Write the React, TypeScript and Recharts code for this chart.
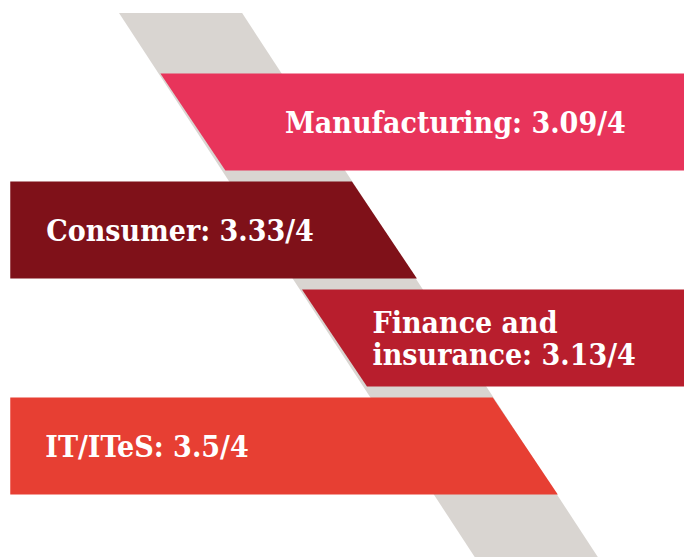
import { BarChart, Bar, XAxis, YAxis, ReferenceArea } from 'recharts'

// sector scores
const sectors = ['Manufacturing', 'Consumer', 'Finance and\ninsurance', 'IT/ITeS']
const scores = [3.09, 3.33, 3.13, 3.5]
// extent of each slab on a 0-100 track (measured at half height)
const spanFrom = [28.2, 1.5, 48.9, 1.5]
const spanTo = [100, 56.2, 100, 76.8]
// grey diagonal band behind the slabs: x range at the top and at the bottom
const bandTop = [17.4, 35.4]
const bandBottom = [69.4, 87.4]

const COLORS = ['#E8345B', '#7F1119', '#B81E2D', '#E73F33']
const LABEL_INSET = [92, 36, 38, 35]
const SLANT = 0.67
const FONT_SIZE = 30
const LINE_H = 32

const rows = sectors.map((name, i) => ({
  name,
  score: scores[i],
  span: [spanFrom[i], spanTo[i]],
}))

const Slab = (props: any) => {
  const { x, y, width, height, index, payload } = props
  const s = height * SLANT
  const anchoredRight = payload.span[1] >= 100
  const pts = anchoredRight
    ? [[x - s / 2, y], [x + width, y], [x + width, y + height], [x + s / 2, y + height]]
    : [[x, y], [x + width - s / 2, y], [x + width + s / 2, y + height], [x, y + height]]
  const lines = `${payload.name}: ${payload.score}/4`.split('\n')
  const tx = x + LABEL_INSET[index]
  const first = y + height / 2 - ((lines.length - 1) * LINE_H) / 2 + FONT_SIZE * 0.36
  return (
    <g>
      <polygon points={pts.map((p) => p.join(',')).join(' ')} fill={COLORS[index]} />
      <text
        x={tx}
        y={first}
        fill="#fff"
        fontSize={FONT_SIZE}
        fontWeight="bold"
        fontFamily="'DejaVu Serif Condensed', 'DejaVu Serif', serif"
      >
        {lines.map((line, i) => (
          <tspan key={i} x={tx} dy={i === 0 ? 0 : LINE_H}>
            {line}
          </tspan>
        ))}
      </text>
    </g>
  )
}

const GreyBand = (props: any) => {
  const { x, y, width, height } = props
  const unit = width / (bandTop[1] - bandTop[0])
  const off = (bandBottom[0] - bandTop[0]) * unit
  const pts = [[x, y], [x + width, y], [x + width + off, y + height], [x + off, y + height]]
  return <polygon points={pts.map((p) => p.join(',')).join(' ')} fill="#D9D5D1" />
}

export default function App() {
  return (
    <div style={{ position: 'absolute', left: 0, top: 0, background: '#fff' }}>
      <BarChart
        width={684}
        height={557}
        data={rows}
        layout="vertical"
        margin={{ top: 13, right: 0, bottom: 0, left: 0 }}
      >
        <XAxis type="number" domain={[0, 100]} hide />
        <YAxis type="category" dataKey="name" hide padding={{ top: 54.5, bottom: 57.5 }} />
        <YAxis yAxisId="band" hide />
        <ReferenceArea
          yAxisId="band"
          x1={bandTop[0]}
          x2={bandTop[1]}
          y1={0}
          y2={rows.length - 1}
          shape={(p: any) => <GreyBand {...p} />}
        />
        <Bar dataKey="span" barSize={97} isAnimationActive={false} shape={(p: any) => <Slab {...p} />} />
      </BarChart>
    </div>
  )
}
